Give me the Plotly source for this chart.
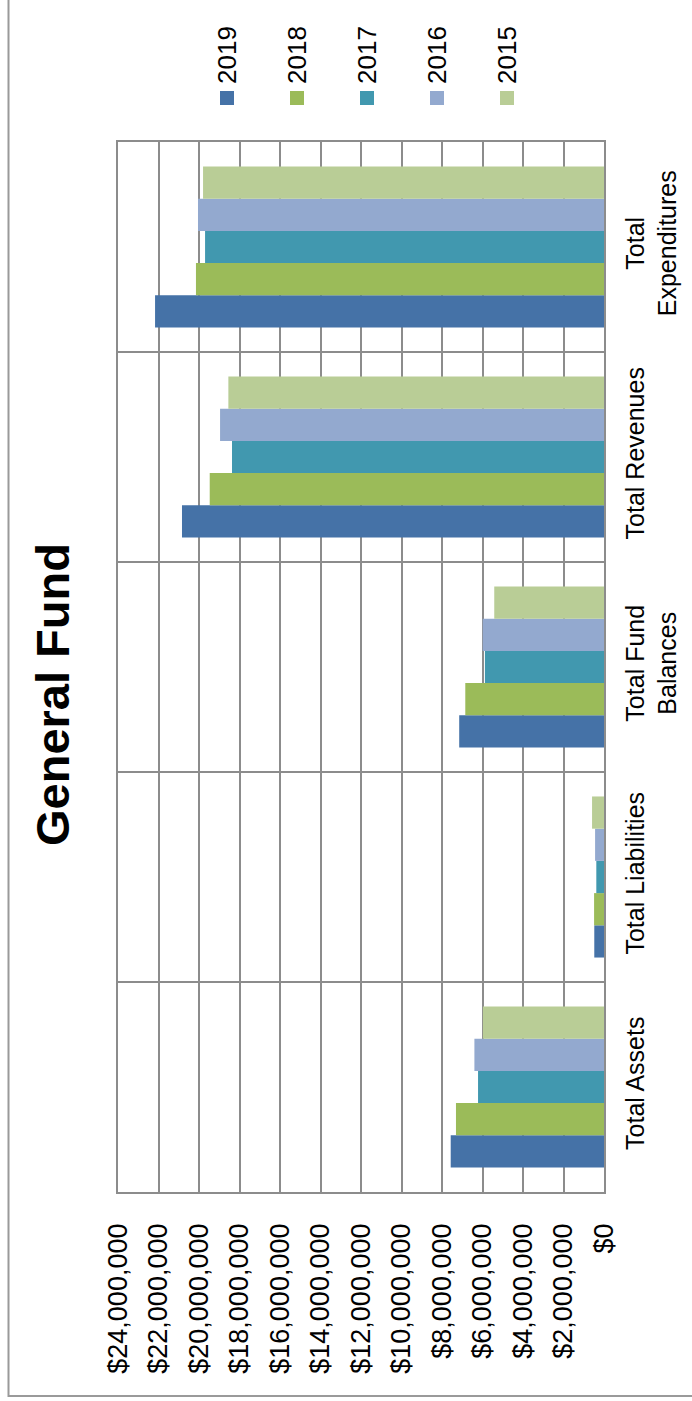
import plotly.graph_objects as go

categories = ["Total Assets", "Total Liabilities", "Total Fund<br>Balances",
              "Total Revenues", "Total<br>Expenditures"]
years = ["2019", "2018", "2017", "2016", "2015"]
colors = ["#4572A7", "#9BBB59", "#4198AF", "#93A9CF", "#B9CD96"]

v2019 = [7_570_000, 480_000, 7_150_000, 20_840_000, 22_170_000]
v2018 = [7_310_000, 490_000, 6_850_000, 19_470_000, 20_150_000]
v2017 = [6_220_000, 380_000, 5_880_000, 18_370_000, 19_700_000]
v2016 = [6_400_000, 440_000, 5_990_000, 18_960_000, 20_050_000]
v2015 = [5_980_000, 590_000, 5_420_000, 18_550_000, 19_800_000]
series = [v2019, v2018, v2017, v2016, v2015]

x_ticks = list(range(0, 24_000_001, 2_000_000))
x_tick_labels = ["$0", "$2,000,000", "$4,000,000", "$6,000,000", "$8,000,000",
                 "$10,000,000", "$12,000,000", "$14,000,000", "$16,000,000",
                 "$18,000,000", "$20,000,000", "$22,000,000", "$24,000,000"]

FONT = "Liberation Sans, Arial, sans-serif"
W, H = 692, 1401
L, R, T, B = 118, 88, 142, 209
PW, PH = W - L - R, H - T - B


def px_x(px):
    return (px - L) / PW


def px_y(py):
    return (H - B - py) / PH


fig = go.Figure()
for yr, col, vals in zip(years, colors, series):
    fig.add_trace(go.Bar(
        y=categories, x=vals, name=yr, orientation="h",
        marker=dict(color=col, line=dict(width=0)),
        showlegend=False,
    ))

annotations = [
    dict(text="<b>General Fund</b>", textangle=-90, showarrow=False,
         xref="paper", yref="paper", x=px_x(52), y=px_y(695),
         xanchor="center", yanchor="middle",
         font=dict(family=FONT, size=47, color="black")),
]
shapes = [
    dict(type="rect", xref="paper", yref="paper",
         x0=px_x(8.5), x1=px_x(760), y0=px_y(1396), y1=px_y(-60),
         line=dict(color="#9a9a9a", width=2), fillcolor="rgba(0,0,0,0)",
         layer="below"),
]
for i, (yr, col) in enumerate(zip(years, colors)):
    cx = 227 + 70 * i
    annotations.append(dict(
        text=yr, textangle=-90, showarrow=False,
        xref="paper", yref="paper", x=px_x(cx), y=px_y(55),
        xanchor="center", yanchor="middle",
        font=dict(family=FONT, size=26, color="black")))
    shapes.append(dict(
        type="rect", xref="paper", yref="paper",
        x0=px_x(cx - 7), x1=px_x(cx + 7), y0=px_y(105), y1=px_y(91),
        fillcolor=col, line=dict(width=0)))

fig.update_layout(
    width=W, height=H,
    margin=dict(l=L, r=R, t=T, b=B, pad=0, autoexpand=False),
    paper_bgcolor="white", plot_bgcolor="white",
    barmode="group", bargap=0.233, bargroupgap=0,
    font=dict(family=FONT, color="black"),
    annotations=annotations, shapes=shapes,
    showlegend=False,
)
fig.update_xaxes(
    range=[24_000_000, 0], tickvals=x_ticks, ticktext=x_tick_labels,
    tickangle=-90, automargin=False,
    showgrid=True, gridcolor="#8c8c8c", gridwidth=1.5,
    showline=True, linecolor="#8c8c8c", linewidth=1.5, mirror=True,
    zeroline=False, ticks="", ticklabelstandoff=19,
    tickfont=dict(family=FONT, size=27, color="black"),
)
fig.update_yaxes(
    side="right", tickangle=-90, tickson="boundaries", automargin=False,
    showgrid=True, gridcolor="#8c8c8c", gridwidth=1.5,
    showline=True, linecolor="#8c8c8c", linewidth=1.5, mirror=True,
    ticks="", ticklabelstandoff=8,
    tickfont=dict(family=FONT, size=25, color="black"),
)

fig.write_html("out.html")
